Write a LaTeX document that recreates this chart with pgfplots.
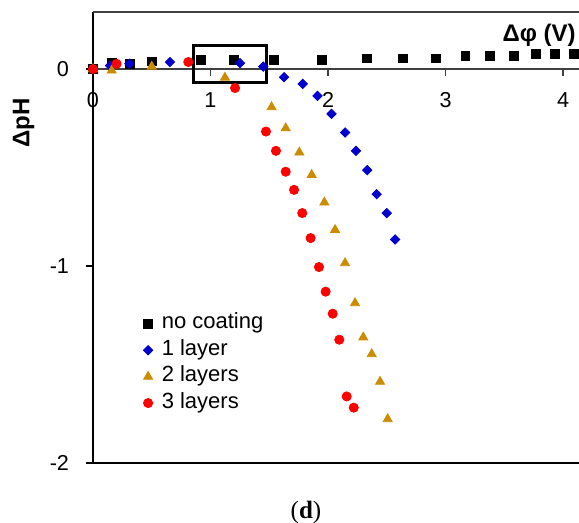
\documentclass[border=0pt]{standalone}
\usepackage{fontspec}
\setmainfont{Liberation Sans}
\newfontfamily\seriffont{Liberation Serif}
\usepackage{pgfplots}
\pgfplotsset{compat=1.18}
\definecolor{cblue}{RGB}{0,0,204}
\definecolor{corange}{RGB}{204,140,0}
\definecolor{cred}{RGB}{255,0,0}
\definecolor{cgray}{RGB}{64,64,64}
\begin{document}
\begin{tikzpicture}
\path[use as bounding box] (0,0) rectangle (289.5bp,261.5bp);
\begin{axis}[
  at={(46.5bp,30bp)}, anchor=south west,
  scale only axis, width=243bp, height=225.5bp,
  xmin=0, xmax=4.136, ymin=-2, ymax=0.29,
  axis x line*=middle, axis y line*=left,
  hide obscured x ticks=false, hide obscured y ticks=false,
  x axis line style={cgray, line width=0.7bp},
  y axis line style={black, line width=0.7bp},
  xtick={0,1,2,3,4}, xticklabels={0,1,2,3,4},
  ytick={-2,-1,0}, yticklabels={-2,-1,0},
  tick align=outside, major tick length=3.5bp,
  x tick style={cgray, line width=0.7bp},
  y tick style={black, line width=0.7bp},
  ticklabel style={font=\fontsize{10.8bp}{12bp}\selectfont},
  xticklabel style={yshift=-4.5bp},
  yticklabel style={xshift=-5bp},
  xlabel={\textbf{Δφ (V)}},
  xlabel style={at={(rel axis cs:0.994,0.949)}, anchor=east, inner sep=0pt, font=\fontsize{12bp}{14bp}\selectfont},
  ylabel={\textbf{ΔpH}},
  ylabel style={at={(rel axis cs:-0.143,0.754)}, anchor=center, inner sep=0pt, font=\fontsize{12bp}{14bp}\selectfont},
  clip=false,
  legend style={draw=none, fill=none, inner sep=0pt, at={(rel axis cs:0.103,0.336)}, anchor=north west,
    row sep=1.2bp, column sep=3.5bp, nodes={inner sep=1bp, text height=7.5bp, text depth=2.5bp},
    font=\fontsize{11bp}{12bp}\selectfont},
  legend cell align=left,
  legend image code/.code={\draw[mark repeat=2,mark phase=2] plot coordinates {(0bp,0bp)(3bp,0bp)(7.5bp,0bp)};},
]
\addplot[only marks, mark=square*, mark size=2.2bp, black] coordinates {
(0,0) (0.159,0.030) (0.315,0.027) (0.50,0.039) (0.919,0.047) (1.20,0.047) (1.54,0.047) (1.946,0.047)
(2.334,0.054) (2.64,0.054) (2.92,0.054) (3.17,0.069) (3.38,0.069) (3.585,0.069) (3.77,0.078) (3.93,0.078) (4.09,0.078)};
\addplot[only marks, mark=square*, mark size=1.65bp, mark options={rotate=45}, cblue] coordinates {
(0,0) (0.145,0.018) (0.31,0.027) (0.655,0.036) (1.251,0.030) (1.449,0.013) (1.626,-0.041) (1.785,-0.075)
(1.911,-0.136) (2.03,-0.227) (2.145,-0.322) (2.238,-0.415) (2.334,-0.513) (2.414,-0.635) (2.50,-0.731) (2.571,-0.865)};
\addplot[only marks, mark=triangle*, mark size=2.6bp, corange] coordinates {
(0,0) (0.159,-0.007) (0.50,0.013) (1.123,-0.043) (1.52,-0.193) (1.64,-0.30) (1.756,-0.423) (1.861,-0.537)
(1.969,-0.677) (2.06,-0.816) (2.145,-0.985) (2.23,-1.188) (2.30,-1.362) (2.372,-1.447) (2.443,-1.587) (2.508,-1.777)};
\addplot[only marks, mark=*, mark size=2.3bp, cred] coordinates {
(0,0) (0.201,0.027) (0.811,0.036) (1.209,-0.096) (1.472,-0.317) (1.557,-0.415) (1.64,-0.521) (1.711,-0.613)
(1.781,-0.731) (1.852,-0.858) (1.923,-1.005) (1.98,-1.13) (2.04,-1.242) (2.096,-1.374) (2.159,-1.662) (2.219,-1.719)};
\legend{no coating, 1 layer, 2 layers, 3 layers}
\draw[cgray, line width=0.7bp] (rel axis cs:0,1) -- (rel axis cs:1,1);
\draw[black, line width=0.7bp] (rel axis cs:0,0) -- (rel axis cs:1,0);
\draw[black, line width=1.4bp] (axis cs:0.857,0.12) rectangle (axis cs:1.475,-0.070);
\end{axis}
\node[font=\seriffont\fontsize{12.5bp}{14bp}\selectfont, anchor=base] at (153bp,2.5bp) {(\textbf{d})};
\end{tikzpicture}
\end{document}
